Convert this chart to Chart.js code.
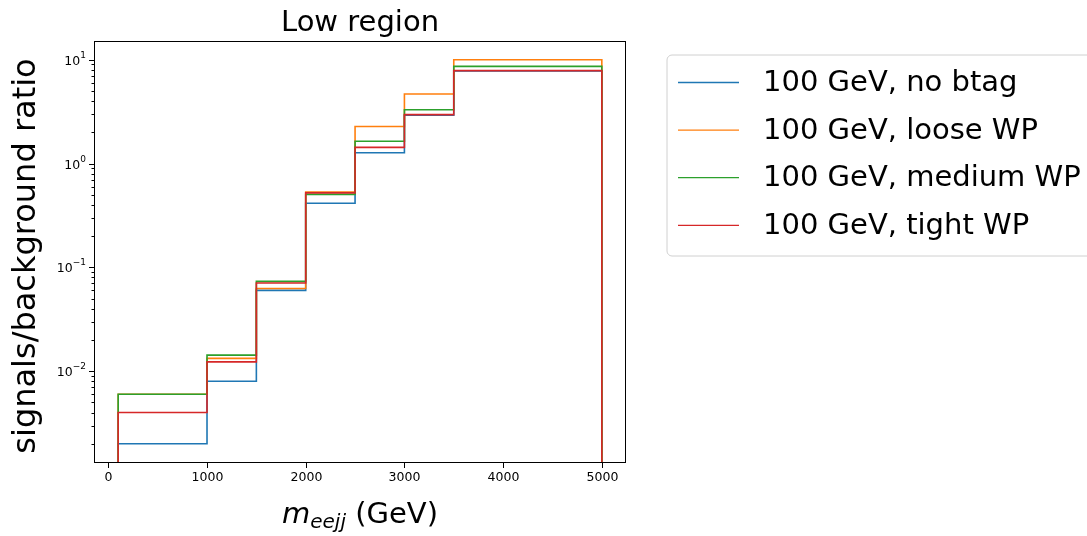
<!DOCTYPE html>
<html>
<head>
<meta charset="utf-8">
<script src="https://cdn.jsdelivr.net/npm/chart.js@4/dist/chart.umd.min.js"></script>
<style>
  body { margin: 0; background: #fff; }
  canvas { display: block; }
</style>
</head>
<body>
<canvas id="lowRegion" width="1087" height="536"></canvas>
<script>
// histogram bin edges (GeV) and ratio per bin
const binEdges = [100, 1000, 1500, 2000, 2500, 3000, 3500, 5000];
const noBtag   = [0.002, 0.008, 0.060, 0.415, 1.27, 2.92, 7.8];
const looseWP  = [0.006, 0.0133, 0.0625, 0.53, 2.27, 4.68, 10.0];
const mediumWP = [0.006, 0.0143, 0.0733, 0.505, 1.64, 3.30, 8.63];
const tightWP  = [0.004, 0.0123, 0.0706, 0.522, 1.43, 2.96, 7.84];

const seriesLabels = ['100 GeV, no btag', '100 GeV, loose WP', '100 GeV, medium WP', '100 GeV, tight WP'];
const seriesColors = ['#1f77b4', '#ff7f0e', '#2ca02c', '#d62728'];

const xTicks = [0, 1000, 2000, 3000, 4000, 5000];
const yTickExponents = [-2, -1, 0, 1];

const FONT = '"DejaVu Sans", sans-serif';
const FLOOR = 1e-5; // histogram outline drops to zero, far below the axis

// step outline like matplotlib histtype='step'
function stepPoints(values) {
  const pts = [{ x: binEdges[0], y: FLOOR }];
  for (let i = 0; i < values.length; i++) {
    pts.push({ x: binEdges[i], y: values[i] });
  }
  pts.push({ x: binEdges[binEdges.length - 1], y: values[values.length - 1] });
  pts.push({ x: binEdges[binEdges.length - 1], y: FLOOR });
  return pts;
}

const allSeries = [noBtag, looseWP, mediumWP, tightWP];

// later series drawn on top (like matplotlib), so lower order for later ones
const datasets = allSeries.map((vals, i) => ({
  label: seriesLabels[i],
  data: stepPoints(vals),
  borderColor: seriesColors[i],
  borderWidth: 1.6,
  pointRadius: 0,
  fill: false,
  stepped: 'before',
  tension: 0,
  order: allSeries.length - 1 - i
}));

function drawPow(ctx, exp, xRight, yMid) {
  const base = '10';
  const sup = exp < 0 ? '\u2212' + Math.abs(exp) : String(exp);
  ctx.font = '9px ' + FONT;
  const supW = ctx.measureText(sup).width;
  ctx.font = '12.5px ' + FONT;
  const baseW = ctx.measureText(base).width;
  ctx.textAlign = 'left';
  ctx.textBaseline = 'middle';
  ctx.fillText(base, xRight - supW - baseW, yMid + 1);
  ctx.font = '9px ' + FONT;
  ctx.fillText(sup, xRight - supW, yMid - 5);
}

const axesDecor = {
  id: 'axesDecor',
  afterDraw(chart) {
    const { ctx, chartArea: a, scales } = chart;
    const xs = scales.x, ys = scales.y;
    ctx.save();
    ctx.fillStyle = '#000';
    ctx.strokeStyle = '#000';

    // frame
    ctx.lineWidth = 1;
    ctx.strokeRect(a.left + 0.5, a.top + 0.5, a.right - a.left - 1, a.bottom - a.top - 1);

    // x ticks
    ctx.font = '12.5px ' + FONT;
    ctx.textAlign = 'center';
    ctx.textBaseline = 'top';
    xTicks.forEach(t => {
      const px = Math.round(xs.getPixelForValue(t)) + 0.5;
      ctx.beginPath();
      ctx.moveTo(px, a.bottom);
      ctx.lineTo(px, a.bottom + 5);
      ctx.stroke();
      ctx.fillText(String(t), px, a.bottom + 8);
    });

    // y ticks (log): major at decades, minor at 2..9
    yTickExponents.forEach(e => {
      const py = Math.round(ys.getPixelForValue(Math.pow(10, e))) + 0.5;
      ctx.beginPath();
      ctx.moveTo(a.left, py);
      ctx.lineTo(a.left - 5, py);
      ctx.stroke();
      drawPow(ctx, e, a.left - 8, py);
    });
    for (let e = -3; e <= 1; e++) {
      for (let m = 2; m <= 9; m++) {
        const v = m * Math.pow(10, e);
        if (v < ys.min || v > ys.max) continue;
        const py = Math.round(ys.getPixelForValue(v)) + 0.5;
        ctx.beginPath();
        ctx.moveTo(a.left, py);
        ctx.lineTo(a.left - 2.5, py);
        ctx.stroke();
      }
    }

    const cx = (a.left + a.right) / 2;

    // title
    ctx.font = '29px ' + FONT;
    ctx.textAlign = 'center';
    ctx.textBaseline = 'alphabetic';
    ctx.fillText('Low region', cx, 31);

    // y label
    ctx.save();
    ctx.translate(35, 256);
    ctx.rotate(-Math.PI / 2);
    ctx.font = '32px ' + FONT;
    ctx.textAlign = 'center';
    ctx.fillText('signals/background ratio', 0, 0);
    ctx.restore();

    // x label: italic m with subscript eejj, then (GeV)
    const mFont = 'italic 29px ' + FONT;
    const subFont = 'italic 20px ' + FONT;
    const restFont = '29px ' + FONT;
    ctx.font = mFont; const wM = ctx.measureText('m').width;
    ctx.font = subFont; const wS = ctx.measureText('eejj').width;
    ctx.font = restFont; const wR = ctx.measureText(' (GeV)').width;
    let x0 = cx - (wM + wS + wR) / 2;
    const yb = 523;
    ctx.textAlign = 'left';
    ctx.font = mFont; ctx.fillText('m', x0, yb); x0 += wM;
    ctx.font = subFont; ctx.fillText('eejj', x0, yb + 5); x0 += wS;
    ctx.font = restFont; ctx.fillText(' (GeV)', x0, yb);

    // legend
    const lx = 667, ly = 55, lw = 460, lh = 201, r = 5;
    ctx.beginPath();
    ctx.moveTo(lx + r, ly);
    ctx.lineTo(lx + lw - r, ly);
    ctx.arcTo(lx + lw, ly, lx + lw, ly + r, r);
    ctx.lineTo(lx + lw, ly + lh - r);
    ctx.arcTo(lx + lw, ly + lh, lx + lw - r, ly + lh, r);
    ctx.lineTo(lx + r, ly + lh);
    ctx.arcTo(lx, ly + lh, lx, ly + lh - r, r);
    ctx.lineTo(lx, ly + r);
    ctx.arcTo(lx, ly, lx + r, ly, r);
    ctx.closePath();
    ctx.fillStyle = 'rgba(255,255,255,0.8)';
    ctx.fill();
    ctx.strokeStyle = '#d0d0d0';
    ctx.lineWidth = 1;
    ctx.stroke();

    ctx.font = '29px ' + FONT;
    ctx.textBaseline = 'middle';
    seriesLabels.forEach((lab, i) => {
      const yy = 82.5 + i * 47.6;
      ctx.strokeStyle = seriesColors[i];
      ctx.lineWidth = 1.3;
      ctx.beginPath();
      ctx.moveTo(678, yy);
      ctx.lineTo(739, yy);
      ctx.stroke();
      ctx.fillStyle = '#000';
      ctx.fillText(lab, 763, yy + 1);
    });

    ctx.restore();
  }
};

new Chart(document.getElementById('lowRegion'), {
  type: 'line',
  data: { datasets },
  options: {
    responsive: false,
    animation: false,
    layout: { padding: { left: 94, top: 41, right: 1087 - 626, bottom: 536 - 463 } },
    scales: {
      x: { type: 'linear', min: -145, max: 5245, display: false },
      y: { type: 'logarithmic', min: Math.pow(10, -2.884), max: Math.pow(10, 1.18), display: false }
    },
    plugins: {
      legend: { display: false },
      tooltip: { enabled: false }
    }
  },
  plugins: [axesDecor]
});
</script>
</body>
</html>
